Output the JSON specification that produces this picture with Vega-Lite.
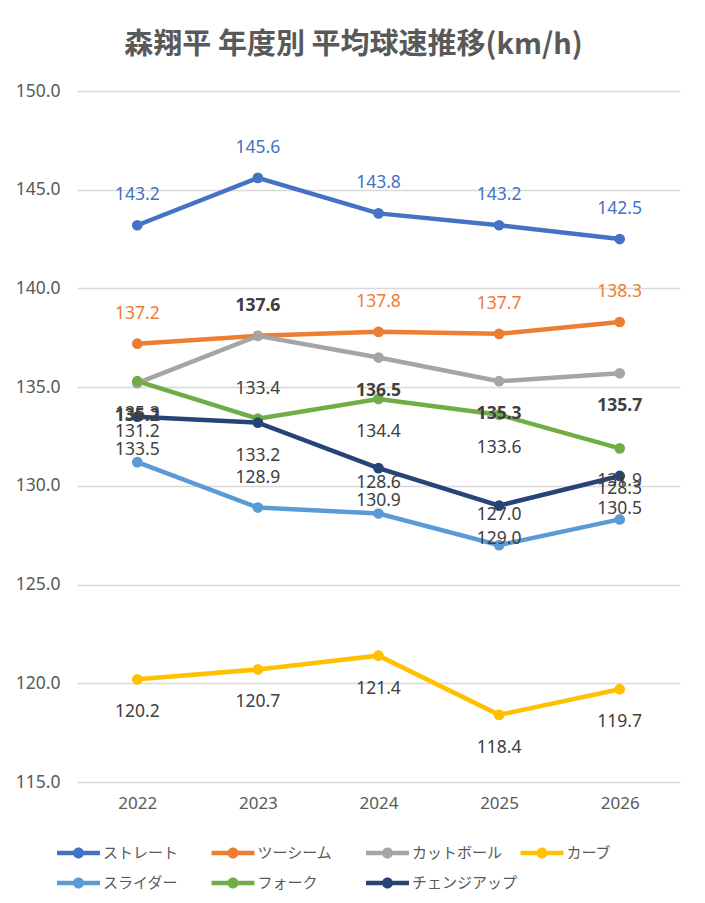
{
  "$schema": "https://vega.github.io/schema/vega-lite/v6.json",
  "width": 603,
  "height": 691,
  "autosize": "none",
  "padding": {"left": 77, "top": 91, "right": 25, "bottom": 121},
  "background": "white",
  "title": {
    "text": "森翔平 年度別 平均球速推移(km/h)",
    "font": "Noto Sans CJK JP",
    "fontSize": 29,
    "fontWeight": "bold",
    "color": "#595959",
    "anchor": "middle",
    "frame": "group",
    "dx": -25,
    "offset": 22
  },
  "data": {
    "values": [
      {"year": "2022", "pitch": "ストレート", "speed": 143.2},
      {"year": "2023", "pitch": "ストレート", "speed": 145.6},
      {"year": "2024", "pitch": "ストレート", "speed": 143.8},
      {"year": "2025", "pitch": "ストレート", "speed": 143.2},
      {"year": "2026", "pitch": "ストレート", "speed": 142.5},
      {"year": "2022", "pitch": "ツーシーム", "speed": 137.2},
      {"year": "2023", "pitch": "ツーシーム", "speed": 137.6},
      {"year": "2024", "pitch": "ツーシーム", "speed": 137.8},
      {"year": "2025", "pitch": "ツーシーム", "speed": 137.7},
      {"year": "2026", "pitch": "ツーシーム", "speed": 138.3},
      {"year": "2022", "pitch": "カットボール", "speed": 135.2},
      {"year": "2023", "pitch": "カットボール", "speed": 137.6},
      {"year": "2024", "pitch": "カットボール", "speed": 136.5},
      {"year": "2025", "pitch": "カットボール", "speed": 135.3},
      {"year": "2026", "pitch": "カットボール", "speed": 135.7},
      {"year": "2022", "pitch": "カーブ", "speed": 120.2},
      {"year": "2023", "pitch": "カーブ", "speed": 120.7},
      {"year": "2024", "pitch": "カーブ", "speed": 121.4},
      {"year": "2025", "pitch": "カーブ", "speed": 118.4},
      {"year": "2026", "pitch": "カーブ", "speed": 119.7},
      {"year": "2022", "pitch": "スライダー", "speed": 131.2},
      {"year": "2023", "pitch": "スライダー", "speed": 128.9},
      {"year": "2024", "pitch": "スライダー", "speed": 128.6},
      {"year": "2025", "pitch": "スライダー", "speed": 127.0},
      {"year": "2026", "pitch": "スライダー", "speed": 128.3},
      {"year": "2022", "pitch": "フォーク", "speed": 135.3},
      {"year": "2023", "pitch": "フォーク", "speed": 133.4},
      {"year": "2024", "pitch": "フォーク", "speed": 134.4},
      {"year": "2025", "pitch": "フォーク", "speed": 133.6},
      {"year": "2026", "pitch": "フォーク", "speed": 131.9},
      {"year": "2022", "pitch": "チェンジアップ", "speed": 133.5},
      {"year": "2023", "pitch": "チェンジアップ", "speed": 133.2},
      {"year": "2024", "pitch": "チェンジアップ", "speed": 130.9},
      {"year": "2025", "pitch": "チェンジアップ", "speed": 129.0},
      {"year": "2026", "pitch": "チェンジアップ", "speed": 130.5}
    ]
  },
  "encoding": {
    "x": {
      "field": "year",
      "type": "ordinal",
      "scale": {"type": "point", "padding": 0.5},
      "axis": {
        "title": null,
        "labelAngle": 0,
        "domain": false,
        "ticks": false,
        "grid": false,
        "labelPadding": 13,
        "labelFont": "Noto Sans",
        "labelFontSize": 17,
        "labelColor": "#595959"
      }
    },
    "y": {
      "field": "speed",
      "type": "quantitative",
      "scale": {"domain": [115, 150], "nice": false, "zero": false},
      "axis": {
        "title": null,
        "values": [115, 120, 125, 130, 135, 140, 145, 150],
        "format": ".1f",
        "domain": false,
        "ticks": false,
        "labelPadding": 17,
        "labelFont": "Noto Sans",
        "labelFontSize": 17.5,
        "labelColor": "#595959",
        "gridColor": "#D9D9D9",
        "gridWidth": 1.3
      }
    }
  },
  "layer": [
    {
      "mark": {"type": "line", "strokeWidth": 4.5, "point": {"filled": true, "size": 115, "opacity": 1}},
      "encoding": {
        "color": {
          "field": "pitch",
          "type": "nominal",
          "sort": ["ストレート", "ツーシーム", "カットボール", "カーブ", "スライダー", "フォーク", "チェンジアップ"],
          "scale": {
            "domain": ["ストレート", "ツーシーム", "カットボール", "カーブ", "スライダー", "フォーク", "チェンジアップ"],
            "range": ["#4472C4", "#ED7D31", "#A5A5A5", "#FFC000", "#5B9BD5", "#70AD47", "#264478"]
          },
          "legend": {
            "title": null,
            "orient": "none",
            "legendX": -8.5,
            "legendY": 752,
            "columns": 4,
            "direction": "horizontal",
            "gridAlign": "all",
            "columnPadding": 2.5,
            "rowPadding": 12,
            "padding": 0,
            "symbolType": "M-2.15,-0.22L2.15,-0.22L2.15,0.22L-2.15,0.22Z M-0.55,0A0.55,0.55 0 1,1 0.55,0A0.55,0.55 0 1,1 -0.55,0Z",
            "symbolSize": 400,
            "symbolStrokeWidth": 0,
            "labelOffset": 14.5,
            "labelFont": "Noto Sans CJK JP",
            "labelFontSize": 15,
            "labelColor": "#595959",
            "labelLimit": 200,
            "encode": {
              "symbols": {
                "update": {
                  "fill": {"scale": "color", "field": "value"},
                  "stroke": {"value": "transparent"},
                  "strokeWidth": {"value": 0},
                  "opacity": {"value": 1}
                }
              }
            }
          }
        }
      }
    },
    {
      "transform": [
        {"filter": "datum.pitch !== 'カットボール' && (indexof(['ストレート','ツーシーム','スライダー'], datum.pitch) >= 0 || (datum.pitch === 'フォーク' && datum.year === '2023'))"}
      ],
      "mark": {"type": "text", "dy": -30, "font": "Noto Sans", "fontSize": 17.5, "baseline": "middle"},
      "encoding": {
        "text": {"field": "speed", "type": "quantitative", "format": ".1f"},
        "color": {
          "condition": [
            {"test": "datum.pitch === 'ストレート'", "value": "#4472C4"},
            {"test": "datum.pitch === 'ツーシーム'", "value": "#ED7D31"}
          ],
          "value": "#404040"
        }
      }
    },
    {
      "transform": [
        {"filter": "datum.pitch !== 'カットボール' && !(indexof(['ストレート','ツーシーム','スライダー'], datum.pitch) >= 0 || (datum.pitch === 'フォーク' && datum.year === '2023'))"}
      ],
      "mark": {"type": "text", "dy": 33, "font": "Noto Sans", "fontSize": 17.5, "baseline": "middle", "color": "#404040"},
      "encoding": {
        "text": {"field": "speed", "type": "quantitative", "format": ".1f"}
      }
    },
    {
      "transform": [
        {"filter": "datum.pitch === 'カットボール' && datum.year === '2023'"}
      ],
      "mark": {"type": "text", "dy": -30, "font": "Noto Sans", "fontSize": 17.5, "fontWeight": "bold", "baseline": "middle", "color": "#404040"},
      "encoding": {
        "text": {"field": "speed", "type": "quantitative", "format": ".1f"}
      }
    },
    {
      "transform": [
        {"filter": "datum.pitch === 'カットボール' && datum.year !== '2023'"}
      ],
      "mark": {"type": "text", "dy": 33, "font": "Noto Sans", "fontSize": 17.5, "fontWeight": "bold", "baseline": "middle", "color": "#404040"},
      "encoding": {
        "text": {"field": "speed", "type": "quantitative", "format": ".1f"}
      }
    }
  ],
  "config": {
    "view": {"stroke": null}
  }
}
